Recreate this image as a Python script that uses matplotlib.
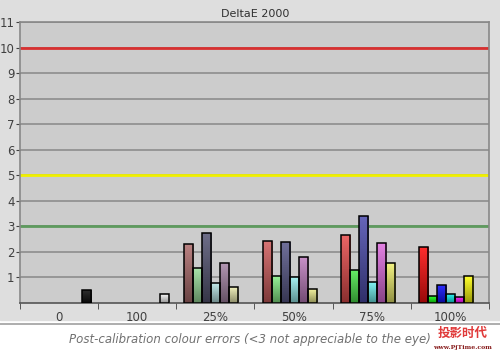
import numpy as np
import matplotlib.pyplot as plt
from matplotlib.colors import to_rgb

groups = ['0', '100', '25%', '50%', '75%', '100%']

# one list per series (R, G, B, C, M, Y, grey), one value per group
red = [0, 0, 2.28, 2.40, 2.65, 2.16]
green = [0, 0, 1.37, 1.05, 1.26, 0.27]
blue = [0, 0, 2.72, 2.36, 3.40, 0.67]
cyan = [0, 0, 0.78, 1.01, 0.82, 0.35]
magenta = [0, 0, 1.54, 1.77, 2.32, 0.20]
yellow = [0, 0, 0.62, 0.52, 1.54, 1.05]
grey = [0.49, 0.33, 0, 0, 0, 0]

series = [red, green, blue, cyan, magenta, yellow, grey]

# bar colours per group, per series
bar_colors = {
    '0':    [None] * 6 + ['#111111'],
    '100':  [None] * 6 + ['#f6f6f6'],
    '25%':  ['#b07070', '#9ee09e', '#5a5a78', '#b8e4e4', '#a888a8', '#ececb0', None],
    '50%':  ['#d06060', '#88ee88', '#5c5c8c', '#99eeee', '#c080c0', '#eeee90', None],
    '75%':  ['#e85050', '#50e850', '#5050b0', '#70f0f0', '#e070e0', '#f0f070', None],
    '100%': ['#ff1010', '#10ff10', '#1010ff', '#10f0f0', '#ff10ff', '#ffff10', None],
}

plt.rcParams['font.family'] = ['DejaVu Sans']
fig = plt.figure(figsize=(5, 3.58), dpi=100)
fig.patch.set_facecolor('white')
# grey panel behind the chart
fig.patches.append(plt.Rectangle((0, 1 - 320 / 358), 1, 320 / 358,
                                 transform=fig.transFigure, color='#dedede', zorder=-2))
fig.lines.append(plt.Line2D([0, 1], [1 - 324 / 358] * 2, transform=fig.transFigure,
                            color='#a0a0a0', lw=1.2))

ax = fig.add_axes([0.04, 0.155, 0.938, 0.7835])
ax.set_facecolor('#cccccc')

n = len(series)
slot = 1 / 8.67
x0 = 8 / 78
for gi, g in enumerate(groups):
    for si in range(n):
        v = series[si][gi]
        c = bar_colors[g][si]
        if v <= 0 or c is None:
            continue
        left = gi + x0 + si * slot
        # vertical shading: lighter top, darker bottom
        rgb = np.array(to_rgb(c))
        t = np.linspace(0, 1, 32)[:, None]
        grad = rgb * (0.6 + 0.4 * t) + (1 - rgb) * 0.12 * t
        grad = np.clip(grad, 0, 1)[:, None, :]
        ax.imshow(grad, extent=(left, left + slot, 0, v), origin='lower',
                  aspect='auto', zorder=3.5)
        ax.bar(left, v, width=slot, align='edge', fill=False, edgecolor='black',
               linewidth=1.1, zorder=4)

ax.axhline(10, color='#d83030', lw=2, zorder=2)
ax.axhline(5, color='#f0f000', lw=2, zorder=2)
ax.axhline(3, color='#5e9a5e', lw=2, zorder=2)

ax.set_xlim(0, 6)
ax.set_ylim(0, 11)
ax.set_yticks(range(1, 12))
ax.set_yticklabels([str(i) for i in range(1, 12)])
ax.yaxis.grid(True, color='#888888', lw=1.1, zorder=1)
ax.set_axisbelow(True)

ax.set_xticks(np.arange(6) + 0.5)
ax.set_xticklabels(groups)
ax.set_xticks(range(7), minor=True)
ax.tick_params(axis='x', which='major', length=0, pad=6, labelsize=8.5, colors='#404040')
ax.tick_params(axis='x', which='minor', length=4, color='#404040', direction='out')
ax.tick_params(axis='y', length=3, pad=1, labelsize=8.5, colors='#404040')

for side in ['top', 'right', 'left', 'bottom']:
    ax.spines[side].set_color('#888888')
    ax.spines[side].set_linewidth(1.2)
ax.spines['bottom'].set_color('#555555')

fig.text(0.51, 0.962, 'DeltaE 2000', ha='center', va='center', fontsize=8, color='#303030')
fig.text(0.5, 1 - 340 / 358, 'Post-calibration colour errors (<3 not appreciable to the eye)',
         ha='center', va='center', fontsize=8.5, style='italic', color='#707070')
fig.text(0.925, 1 - 333 / 358, '投影时代', ha='center', va='center', fontsize=9,
         color='#e03a3a', family=['Noto Sans CJK SC', 'DejaVu Sans'], fontweight='bold')
fig.text(0.925, 1 - 347 / 358, 'www.PjTime.com', ha='center', va='center', fontsize=4.5,
         color='#8a2020', fontweight='bold', family='serif')

fig.savefig('out.png', dpi=100, facecolor=fig.get_facecolor())
